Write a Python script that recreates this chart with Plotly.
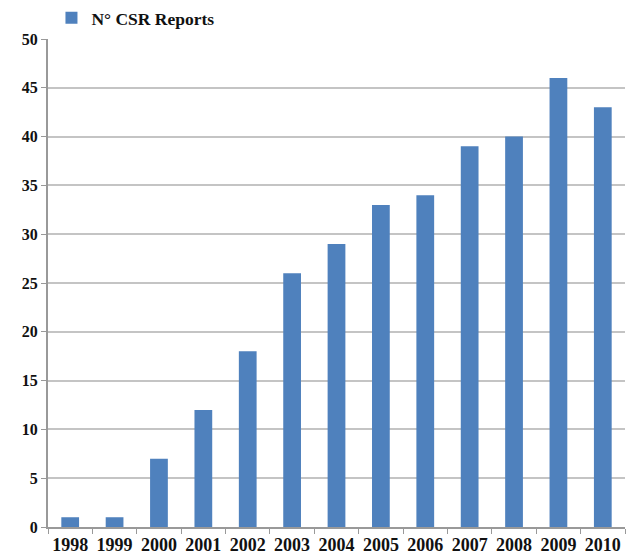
import plotly.graph_objects as go

# Number of CSR reports published per year
years = ["1998", "1999", "2000", "2001", "2002", "2003", "2004",
         "2005", "2006", "2007", "2008", "2009", "2010"]
reports = [1, 1, 7, 12, 18, 26, 29, 33, 34, 39, 40, 46, 43]
y_ticks = [0, 5, 10, 15, 20, 25, 30, 35, 40, 45, 50]
series_name = "N° CSR Reports"

fig = go.Figure()
fig.add_trace(go.Bar(
    x=years,
    y=reports,
    name=series_name,
    marker=dict(color="#4F81BD", line=dict(width=0)),
    showlegend=True,
))

fig.update_layout(
    width=636,
    height=557,
    margin=dict(l=48, r=11, t=39, b=30, autoexpand=False),
    paper_bgcolor="white",
    plot_bgcolor="white",
    bargap=0.6,
    showlegend=True,
    legend=dict(
        x=0.006, y=1.08, xanchor="left", yanchor="top",
        orientation="h",
        font=dict(family="Liberation Serif", size=17.5, color="#111111", weight="bold"),
        bgcolor="rgba(0,0,0,0)",
    ),
    xaxis=dict(
        type="category",
        showgrid=False,
        showline=True,
        linecolor="#999999",
        linewidth=2,
        ticks="outside",
        tickson="boundaries",
        ticklen=5,
        tickcolor="#999999",
        tickwidth=1,
        tickangle=0,
        tickfont=dict(family="Liberation Serif", size=18, color="#111111", weight="bold"),
    ),
    yaxis=dict(
        range=[0, 50],
        tickvals=y_ticks,
        showgrid=True,
        gridcolor="#c4c4c4",
        gridwidth=1.5,
        showline=True,
        linecolor="#999999",
        linewidth=2,
        ticks="outside",
        ticklen=5,
        tickcolor="#999999",
        zeroline=False,
        tickfont=dict(family="Liberation Serif", size=16, color="#111111", weight="bold"),
    ),
)

fig.write_html("out.html")
